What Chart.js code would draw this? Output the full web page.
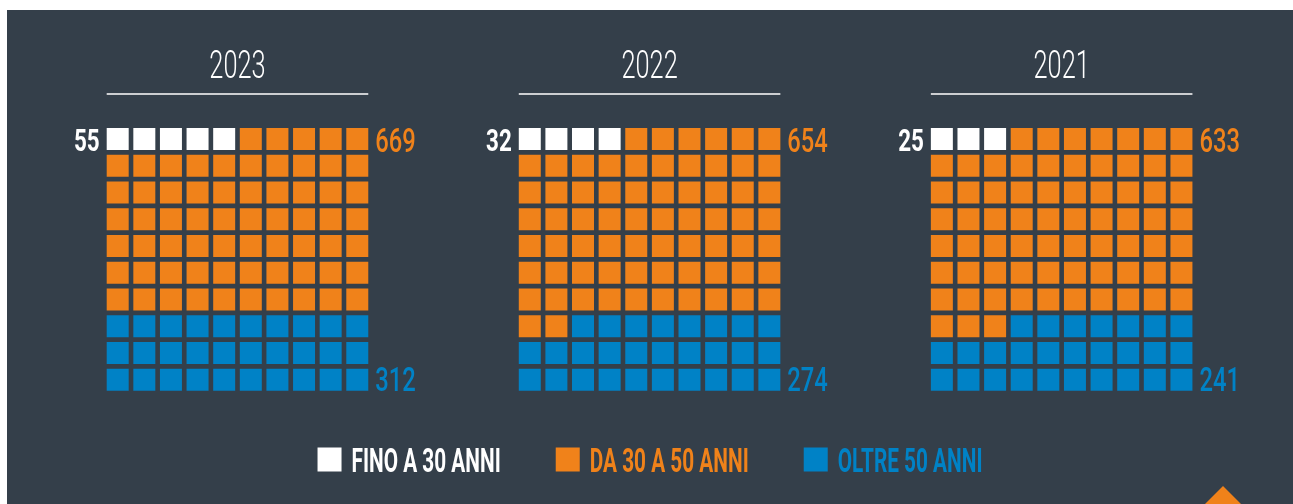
<!DOCTYPE html>
<html>
<head>
<meta charset="utf-8">
<script src="https://cdn.jsdelivr.net/npm/chart.js@4.4.0/dist/chart.umd.min.js"></script>
<style>
  html, body { margin: 0; padding: 0; background: #ffffff; overflow: hidden; }
  #panel { position: absolute; left: 7px; top: 10px; right: 0; bottom: 0; background: #343f4a; }
  #waffle { position: absolute; left: 0; top: 0; }
</style>
</head>
<body>
<div id="panel"></div>
<canvas id="waffle" width="1293" height="504"></canvas>
<script>
// data
const years = ['2023', '2022', '2021'];
const under30 = [55, 32, 25];
const from30to50 = [669, 654, 633];
const over50 = [312, 274, 241];
// squares shown in each 10x10 waffle
const cellsUnder30 = [5, 4, 3];
const cellsFrom30to50 = [65, 68, 70];
const cellsOver50 = [30, 28, 27];
const legendLabels = ['FINO A 30 ANNI', 'DA 30 A 50 ANNI', 'OLTRE 50 ANNI'];

const colors = ['#ffffff', '#f0821a', '#0082c6'];

// layout
const PITCH_X = 26.62;
const PITCH_Y = 26.75;
const STEP = 15.48;       // distance between waffles, in cells
const CELL = 22;

function buildCells(counts, before) {
    const pts = [];
    counts.forEach((n, i) => {
        const start = before ? before[i] : 0;
        for (let k = start; k < start + n; k++) {
            pts.push({ x: i * STEP + (k % 10), y: Math.floor(k / 10) });
        }
    });
    return pts;
}

const datasets = [
    { label: legendLabels[0], data: buildCells(cellsUnder30), backgroundColor: colors[0] },
    { label: legendLabels[1], data: buildCells(cellsFrom30to50, cellsUnder30), backgroundColor: colors[1] },
    { label: legendLabels[2], data: buildCells(cellsOver50, cellsUnder30.map((v, i) => v + cellsFrom30to50[i])), backgroundColor: colors[2] }
];

function condText(ctx, txt, x, y, align, sx) {
    ctx.save();
    ctx.translate(x, y);
    ctx.scale(sx, 1);
    ctx.textAlign = align;
    ctx.fillText(txt, 0, 0);
    ctx.restore();
}

const decorations = {
    id: 'decorations',
    afterDatasetsDraw(chart) {
        const ctx = chart.ctx;
        const xs = chart.scales.x, ys = chart.scales.y;
        ctx.save();
        ctx.textBaseline = 'alphabetic';
        years.forEach((yr, i) => {
            const left = xs.getPixelForValue(i * STEP) - CELL / 2;
            const right = xs.getPixelForValue(i * STEP + 9) + CELL / 2;
            const mid = xs.getPixelForValue(i * STEP + 4.5);
            const top = ys.getPixelForValue(0);
            const bottom = ys.getPixelForValue(9);

            ctx.fillStyle = '#ffffff';
            ctx.font = '300 39px Roboto';
            condText(ctx, yr, mid, 78, 'center', 0.65);

            ctx.strokeStyle = '#ffffff';
            ctx.lineWidth = 1.5;
            ctx.beginPath();
            ctx.moveTo(left, 94);
            ctx.lineTo(right, 94);
            ctx.stroke();

            ctx.font = 'bold 32px Roboto';
            ctx.fillStyle = colors[0];
            condText(ctx, String(under30[i]), left - 7, top + CELL / 2 + 1, 'right', 0.7);

            ctx.font = '500 33px Roboto';
            ctx.fillStyle = colors[1];
            condText(ctx, String(from30to50[i]), right + 7, top + CELL / 2 + 2, 'left', 0.72);
            ctx.fillStyle = colors[2];
            condText(ctx, String(over50[i]), right + 7, bottom + CELL / 2, 'left', 0.72);
        });

        // legend
        const sx = 0.63;
        ctx.font = 'bold 33px Roboto';
        const widths = legendLabels.map(t => ctx.measureText(t).width * sx);
        const box = 24, pad = 10, gap = 55;
        const total = widths.reduce((a, w) => a + box + pad + w, 0) + gap * (widths.length - 1);
        let lx = (chart.width + 7) / 2 - total / 2;
        legendLabels.forEach((t, i) => {
            ctx.fillStyle = colors[i];
            ctx.fillRect(lx, 447.5, box, box);
            condText(ctx, t, lx + box + pad, 472, 'left', sx);
            lx += box + pad + widths[i] + gap;
        });

        // corner marker
        ctx.fillStyle = '#f0821a';
        ctx.beginPath();
        ctx.moveTo(1223, 486);
        ctx.lineTo(1243, 506);
        ctx.lineTo(1203, 506);
        ctx.closePath();
        ctx.fill();
        ctx.restore();
    }
};

function draw() {
    const xMin = -117.7 / PITCH_X;
    const yMin = -139 / PITCH_Y;
    new Chart(document.getElementById('waffle').getContext('2d'), {
        type: 'scatter',
        data: { datasets },
        options: {
            responsive: false,
            animation: false,
            events: [],
            layout: { padding: 0, autoPadding: false },
            plugins: { legend: { display: false }, tooltip: { enabled: false } },
            elements: {
                point: {
                    pointStyle: 'rect',
                    radius: CELL / Math.SQRT2,
                    hoverRadius: CELL / Math.SQRT2,
                    borderWidth: 0
                }
            },
            scales: {
                x: { type: 'linear', display: false, min: xMin, max: xMin + 1293 / PITCH_X },
                y: { type: 'linear', display: false, reverse: true, min: yMin, max: yMin + 504 / PITCH_Y }
            }
        },
        plugins: [decorations]
    });
}

Promise.all([
    document.fonts.load('300 39px Roboto'),
    document.fonts.load('500 33px Roboto'),
    document.fonts.load('bold 33px Roboto')
]).then(draw, draw);
</script>
</body>
</html>
